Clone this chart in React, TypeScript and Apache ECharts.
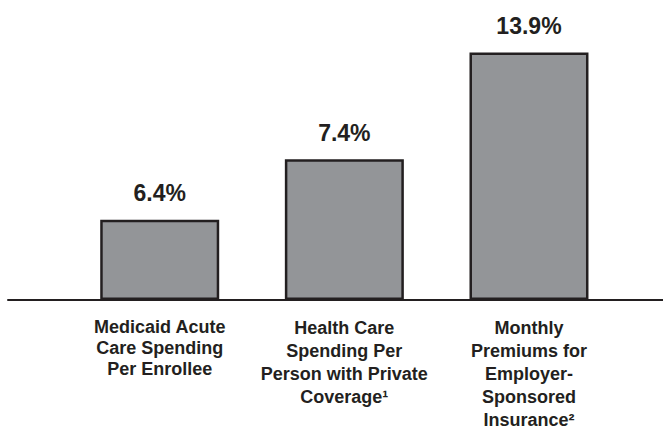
import React, { useEffect, useRef } from "react";
import * as echarts from "echarts";

// Category labels (multi-line as in the reference)
const categories = [
  "Medicaid Acute\nCare Spending\nPer Enrollee",
  "Health Care\nSpending Per\nPerson with Private\nCoverage¹",
  "Monthly\nPremiums for\nEmployer-\nSponsored\nInsurance²",
];
// Printed values (percent)
const percentChange = [6.4, 7.4, 13.9];
// Bar heights as drawn in the reference (in % units relative to the 13.9% bar)
const drawnHeights = [4.5, 7.9, 13.9];
const categoryLineHeights = [21, 23, 23];

const FONT = '"Liberation Sans", Arial, Helvetica, sans-serif';
const DARK = "#231f20";
const FILL = "#939598";

export default function App() {
  const ref = useRef<HTMLDivElement>(null);
  useEffect(() => {
    document.body.style.margin = "0";
    const chart = echarts.init(ref.current!, null, { renderer: "svg" });
    chart.setOption({
      animation: false,
      backgroundColor: "#ffffff",
      grid: [
        { left: 67.4, right: 41.7, top: 52.5, bottom: 133 },
        { left: 8, right: 0, top: 52.5, bottom: 133 },
      ],
      xAxis: [
        {
          type: "category",
          gridIndex: 0,
          data: categories.map((c, i) => ({
            value: c,
            textStyle: { lineHeight: categoryLineHeights[i] },
          })),
          axisLine: { show: false },
          axisTick: { show: false },
          axisLabel: {
            interval: 0,
            margin: 16,
            color: DARK,
            fontFamily: FONT,
            fontWeight: "bold",
            fontSize: 18,
            align: "center",
          },
        },
        {
          type: "value",
          gridIndex: 1,
          min: 0,
          max: 1,
          axisLine: { show: true, lineStyle: { color: DARK, width: 2 } },
          axisTick: { show: false },
          axisLabel: { show: false },
          splitLine: { show: false },
        },
      ],
      yAxis: [
        {
          type: "value",
          gridIndex: 0,
          min: 0,
          max: 13.9,
          show: false,
          splitLine: { show: false },
        },
        {
          type: "value",
          gridIndex: 1,
          min: 0,
          max: 1,
          show: false,
          splitLine: { show: false },
        },
      ],
      series: [
        {
          type: "bar",
          xAxisIndex: 0,
          yAxisIndex: 0,
          data: drawnHeights,
          barWidth: 119,
          itemStyle: { color: FILL, borderColor: DARK, borderWidth: 2.5 },
          label: {
            show: true,
            position: "top",
            distance: 15,
            color: DARK,
            fontFamily: FONT,
            fontWeight: "bold",
            fontSize: 23,
            lineHeight: 23,
            formatter: (p: any) => percentChange[p.dataIndex].toFixed(1) + "%",
          },
        },
      ],
    });
    return () => chart.dispose();
  }, []);
  return <div ref={ref} style={{ width: 663, height: 433 }} />;
}
